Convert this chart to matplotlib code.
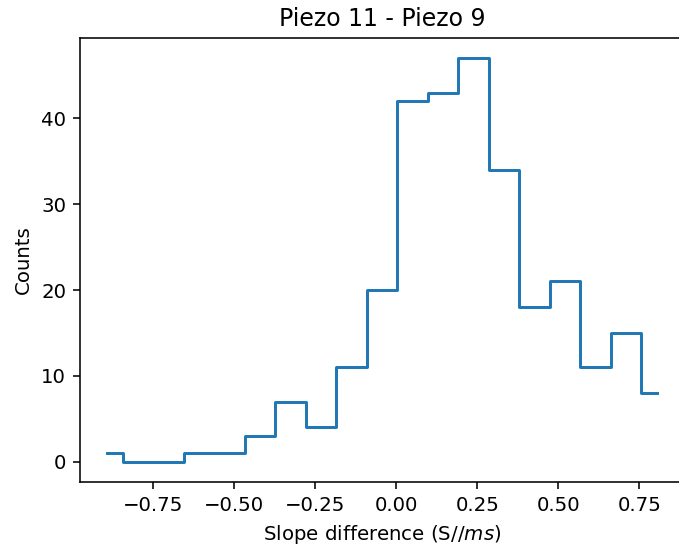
import matplotlib

matplotlib.use("Agg")
import matplotlib.pyplot as plt

# bin centres (S/ms) and counts
bin_centers = [-0.891, -0.797, -0.703, -0.609, -0.514, -0.420, -0.326, -0.232, -0.138, -0.044,
               0.050, 0.144, 0.238, 0.332, 0.427, 0.521, 0.615, 0.709, 0.803]
counts = [1, 0, 0, 1, 1, 3, 7, 4, 11, 20, 42, 43, 47, 34, 18, 21, 11, 15, 8]

title = "Piezo 11 - Piezo 9"
xlabel = "Slope difference (S/$/ms$)"
ylabel = "Counts"

DPI = 142
W, H = 679, 548
fig = plt.figure(figsize=(W / DPI, H / DPI), dpi=DPI)
# right spine sits just past the picture edge in the reference
ax = fig.add_axes([80 / W, (H - 482) / H, 604 / W, 444 / H])
ax.step(bin_centers, counts, where="mid", color="#1f77b4", linewidth=1.5)
ax.set_title(title)
ax.set_xlabel(xlabel)
ax.set_ylabel(ylabel)
fig.savefig("out.png", dpi=DPI)
plt.close(fig)
